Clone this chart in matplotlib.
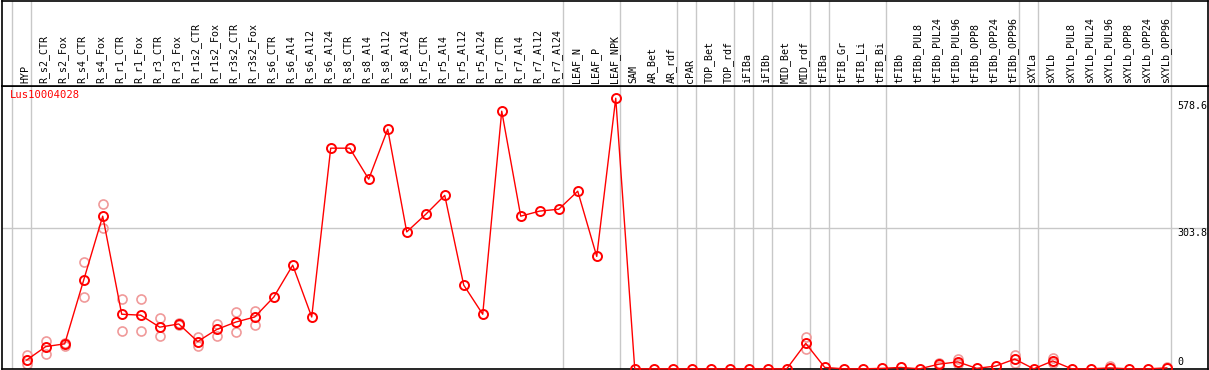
import numpy as np
import matplotlib
matplotlib.use("Agg")
import matplotlib.pyplot as plt

# muestras (eje x)
muestras = ["HYP", "R_s2_CTR", "R_s2_Fox", "R_s4_CTR", "R_s4_Fox", "R_r1_CTR", "R_r1_Fox",
            "R_r3_CTR", "R_r3_Fox", "R_r1s2_CTR", "R_r1s2_Fox", "R_r3s2_CTR", "R_r3s2_Fox",
            "R_s6_CTR", "R_s6_Al4", "R_s6_Al12", "R_s6_Al24", "R_s8_CTR", "R_s8_Al4",
            "R_s8_Al12", "R_s8_Al24", "R_r5_CTR", "R_r5_Al4", "R_r5_Al12", "R_r5_Al24",
            "R_r7_CTR", "R_r7_Al4", "R_r7_Al12", "R_r7_Al24", "LEAF_N", "LEAF_P", "LEAF_NPK",
            "SAM", "AR_Bet", "AR_rdf", "cPAR", "TOP_Bet", "TOP_rdf", "iFIBa", "iFIBb",
            "MID_Bet", "MID_rdf", "tFIBa", "tFIB_Gr", "tFIB_Li", "tFIB_Bi", "tFIBb",
            "tFIBb_PUL8", "tFIBb_PUL24", "tFIBb_PUL96", "tFIBb_OPP8", "tFIBb_OPP24",
            "tFIBb_OPP96", "sXYLa", "sXYLb", "sXYLb_PUL8", "sXYLb_PUL24", "sXYLb_PUL96",
            "sXYLb_OPP8", "sXYLb_OPP24", "sXYLb_OPP96"]

# tamaño de cada grupo de muestras (para las lineas verticales)
grupos = [1, 28, 3, 3, 1, 2, 1, 1, 2, 1, 3, 7, 1, 7]

# valor medio
media = [19, 48, 54, 192, 330, 118, 116, 90, 97, 59, 85, 101, 112,
         155, 224, 112, 477, 477, 410, 518, 296, 334, 375, 181, 118,
         557, 330, 341, 345, 384, 243, 585,
         0, 0, 0, 0, 0, 0, 0, 0, 0, 55,
         3, 0, 0, 1, 3, 0, 10, 15, 1, 6, 21,
         0, 17, 0, 0, 2, 0, 0, 2]

nan = np.nan
# replicas
rep_a = [30, 60, 56, 230, 356, 152, 152, 110, 100, 68, 97, 122, 126,
         nan, nan, nan, nan, nan, nan, nan, nan, nan, nan, nan, nan,
         nan, nan, nan, nan, nan, nan, nan,
         nan, nan, nan, nan, nan, nan, nan, nan, nan, 69,
         nan, nan, nan, nan, nan, nan, 12.5, 22, nan, nan, 29,
         nan, 23, nan, nan, 7, nan, nan, 5]
rep_b = [11, 32, 50, 155, 304, 82, 82, 72, 94, 50, 72, 80, 95,
         nan, nan, nan, nan, nan, nan, nan, nan, nan, nan, nan, nan,
         nan, nan, nan, nan, nan, nan, nan,
         nan, nan, nan, nan, nan, nan, nan, nan, nan, 43,
         nan, nan, nan, nan, nan, nan, 7, 10, nan, nan, 12,
         nan, 12, nan, nan, nan, nan, nan, nan]

ticks_y = [0, 303.8, 578.6]

W, H = 1209, 370
fig = plt.figure(figsize=(W / 100, H / 100), dpi=100)
x = np.arange(len(muestras))
xlim = (-1.3, 62.17)
ylim = (-0.4, 612.5)

ax = fig.add_axes([2 / W, 1 - 369 / H, 1206 / W, (369 - 85.5) / H])
cab = fig.add_axes([2 / W, 1 - 85.5 / H, 1206 / W, 85.0 / H])

separadores = [-0.8] + list(np.cumsum(grupos) - 1 + 0.2)
for a in (ax, cab):
    a.set_xlim(*xlim)
    a.set_xticks([])
    a.set_yticks([])
    for s in a.spines.values():
        s.set_color("black")
        s.set_linewidth(1.2)
    for sx in separadores:
        a.axvline(sx, color="#c8c8c8", lw=1, zorder=0)

ax.set_ylim(*ylim)
ax.axhline(303.8, color="#c8c8c8", lw=1, zorder=0)

ax.plot(x, rep_a, ls="none", marker="o", ms=6.5, mfc="none", mec="#f09a9a", mew=1.2, zorder=2)
ax.plot(x, rep_b, ls="none", marker="o", ms=6.5, mfc="none", mec="#f09a9a", mew=1.2, zorder=2)
ax.plot(x, media, color="red", lw=1, marker="o", ms=6.5, mfc="none", mec="red", mew=1.4,
        zorder=3, clip_on=False)

fuente = "DejaVu Sans Mono"
for t in ticks_y:
    va = "bottom" if t == 0 else "top"
    ax.text(60.58, t + (4 if t == 0 else 0), f"{t:g}", fontsize=7.2, family=fuente,
            ha="left", va=va, color="black")

ax.text(-0.9, 592, "Lus10004028", fontsize=7.6, family=fuente, color="red",
        ha="left", va="center")

for i, m in enumerate(muestras):
    cab.text(i - 0.08, 0.025, m, rotation=90, fontsize=7.2, family=fuente,
             ha="center", va="bottom", transform=cab.get_xaxis_transform())

fig.savefig("out.png", dpi=100)
